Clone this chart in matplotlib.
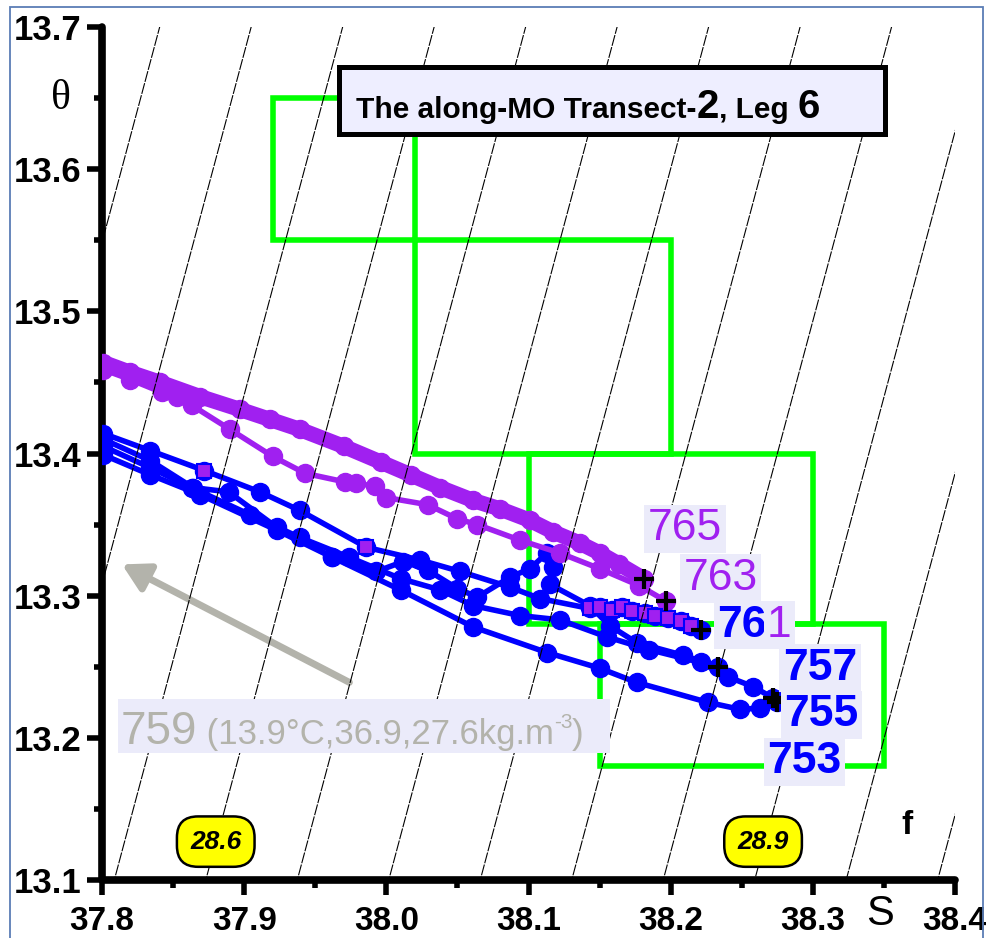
import matplotlib
matplotlib.use("Agg")
import matplotlib.pyplot as plt
from matplotlib.patches import Rectangle
import numpy as np

plt.rcParams['font.family'] = ['Liberation Sans', 'DejaVu Sans']

# axes
s_lim = (37.8, 38.4)
t_lim = (13.1, 13.7)
s_ticks = [37.8, 37.9, 38.0, 38.1, 38.2, 38.3, 38.4]
t_ticks = [13.1, 13.2, 13.3, 13.4, 13.5, 13.6, 13.7]

# green water-mass boxes
box_s0 = [37.92, 38.02, 38.10, 38.15]
box_s1 = [38.02, 38.20, 38.30, 38.35]
box_t0 = [13.55, 13.40, 13.28, 13.18]
box_t1 = [13.65, 13.55, 13.40, 13.28]

# linear density used for the isopycnals
sig_ref = 28.6
s_ref = 37.873
t_ref = 13.1
beta = 0.777
alpha = 0.208
sig_levels = [28.40, 28.45, 28.50, 28.55, 28.60, 28.65, 28.70, 28.75,
              28.80, 28.85, 28.90, 28.95, 29.00, 29.05]

# stations (S, theta)
s765 = [37.801, 37.820, 37.841, 37.869, 37.897, 37.918, 37.939, 37.970, 37.996, 38.017,
        38.038, 38.061, 38.080, 38.101, 38.117, 38.136, 38.150, 38.164, 38.181]
t765 = [13.464, 13.457, 13.450, 13.440, 13.431, 13.424, 13.417, 13.405, 13.394, 13.385,
        13.376, 13.367, 13.361, 13.353, 13.345, 13.337, 13.330, 13.322, 13.312]

s763 = [37.801, 37.820, 37.842, 37.853, 37.863, 37.890, 37.920, 37.943, 37.971, 37.979,
        37.992, 38.000, 38.029, 38.050, 38.064, 38.094, 38.122, 38.150, 38.178, 38.197]
t763 = [13.459, 13.452, 13.443, 13.440, 13.434, 13.417, 13.398, 13.386, 13.380, 13.379,
        13.377, 13.369, 13.364, 13.354, 13.350, 13.339, 13.330, 13.319, 13.307, 13.296]

s761 = [37.801, 37.834, 37.872, 37.911, 37.939, 37.986, 38.024, 38.052, 38.087, 38.108,
        38.143, 38.150, 38.159, 38.166, 38.173, 38.182, 38.189, 38.198, 38.207, 38.214, 38.221]
t761 = [13.414, 13.402, 13.388, 13.373, 13.360, 13.334, 13.325, 13.317, 13.306, 13.298,
        13.291, 13.292, 13.290, 13.292, 13.289, 13.288, 13.286, 13.284, 13.282, 13.279, 13.276]
sq761_s = [37.872, 37.986, 38.143, 38.150, 38.159, 38.166, 38.173, 38.182, 38.189, 38.198, 38.207, 38.214]
sq761_t = [13.388, 13.334, 13.291, 13.292, 13.290, 13.292, 13.289, 13.288, 13.286, 13.284, 13.282, 13.279]

s757 = [37.801, 37.834, 37.864, 37.889, 37.923, 37.962, 37.993, 38.012, 38.029, 38.050,
        38.064, 38.087, 38.101, 38.113, 38.117, 38.115, 38.143, 38.157, 38.176, 38.209, 38.233]
t757 = [13.410, 13.395, 13.376, 13.373, 13.348, 13.327, 13.317, 13.324, 13.318, 13.305,
        13.299, 13.313, 13.319, 13.330, 13.320, 13.308, 13.293, 13.279, 13.267, 13.258, 13.250]

s755 = [37.801, 37.834, 37.863, 37.904, 37.939, 37.974, 38.010, 38.038, 38.061, 38.094,
        38.122, 38.155, 38.185, 38.221, 38.240, 38.258, 38.272]
t755 = [13.405, 13.390, 13.376, 13.357, 13.341, 13.327, 13.312, 13.304, 13.293, 13.286,
        13.283, 13.271, 13.262, 13.253, 13.243, 13.236, 13.228]

s753 = [37.801, 37.834, 37.869, 37.923, 37.962, 38.010, 38.061, 38.113, 38.150, 38.176,
        38.226, 38.249, 38.263, 38.275]
t753 = [13.399, 13.385, 13.371, 13.346, 13.327, 13.304, 13.278, 13.260, 13.249, 13.239,
        13.225, 13.220, 13.221, 13.225]

purple = '#A020F0'
blue = '#0000FF'
green = '#00FF00'
grey = '#B3B3AB'
lav = '#EBEBFA'

fig = plt.figure(figsize=(9.87, 9.38), dpi=100)
ax = fig.add_axes([102 / 987, 58 / 938, 853 / 987, 853 / 938])
ax.set_xlim(*s_lim)
ax.set_ylim(*t_lim)

# isopycnals
S, T = np.meshgrid(np.linspace(37.7, 38.5, 60), np.linspace(13.0, 13.8, 60))
sig = sig_ref + beta * (S - s_ref) - alpha * (T - t_ref)
ax.contour(S, T, sig, levels=sig_levels, colors='k', linewidths=0.8,
           linestyles=[(0, (10, 1.2))], zorder=7)

# green boxes
for a, b, c, d in zip(box_s0, box_s1, box_t0, box_t1):
    ax.add_patch(Rectangle((a, c), b - a, d - c, fill=False, ec=green, lw=4, zorder=2))

# station curves
for s, t, c, w in [(s753, t753, blue, 4), (s755, t755, blue, 4), (s757, t757, blue, 4),
                   (s761, t761, blue, 4), (s763, t763, purple, 4), (s765, t765, purple, 11)]:
    ax.plot(s, t, '-', color=c, lw=w, marker='o', ms=13, mfc=c, mec=c, zorder=4,
            solid_capstyle='round')
ax.plot(sq761_s, sq761_t, 's', mfc=purple, mec=blue, mew=1.5, ms=10, zorder=5)
for s, t in [(s765, t765), (s763, t763), (s761, t761), (s757, t757), (s755, t755), (s753, t753)]:
    ax.plot(s[-1], t[-1], '+', color='k', ms=15, mew=3, zorder=6)

# station labels
bb = dict(boxstyle='square,pad=0.08', fc=lav, ec='none')
ax.text(38.184, 13.339, "765", color=purple, fontsize=32, va='baseline', bbox=bb, zorder=9)
ax.text(38.209, 13.304, "763", color=purple, fontsize=32, va='baseline', bbox=bb, zorder=9)
t76 = ax.text(38.233, 13.271, "76", color=blue, fontsize=32, fontweight='bold',
              va='baseline', bbox=bb, zorder=9)
ax.annotate("1", xy=(1, 13.271), xycoords=(t76, 'data'), color=purple, fontsize=32,
            va='baseline', bbox=bb, zorder=9)
ax.text(38.279, 13.241, "757", color=blue, fontsize=32, fontweight='bold', va='baseline', bbox=bb, zorder=9)
ax.text(38.280, 13.208, "755", color=blue, fontsize=32, fontweight='bold', va='baseline', bbox=bb, zorder=9)
ax.text(38.268, 13.175, "753", color=blue, fontsize=32, fontweight='bold', va='baseline', bbox=bb, zorder=9)

# station 759 (off the diagram)
ax.annotate("", xy=(37.814, 13.322), xytext=(37.974, 13.239),
            arrowprops=dict(arrowstyle='-|>,head_length=0.8,head_width=0.45', color=grey,
                            lw=5, shrinkA=0, shrinkB=0, mutation_scale=20), zorder=3)
ax.add_patch(Rectangle((37.811, 13.189), 0.346, 0.038, fc=lav, ec='none', zorder=8))
p1 = ax.text(37.813, 13.196, "759", color=grey, fontsize=33, va='baseline', zorder=9)
p2 = ax.annotate(" (13.9°C,36.9,27.6kg.m", xy=(1, 13.196), xycoords=(p1, 'data'),
                 color=grey, fontsize=25, va='baseline', zorder=9)
p3 = ax.annotate("-3", xy=(1, 13.196), xycoords=(p2, 'data'), xytext=(0, 11),
                 textcoords='offset points', color=grey, fontsize=15, va='baseline', zorder=9)
ax.annotate(")", xy=(1, 13.196), xycoords=(p3, 'data'), color=grey, fontsize=25,
            va='baseline', zorder=9)

# isopycnal labels
for s0, t0, lab in [(37.880, 13.127, "28.6"), (38.265, 13.127, "28.9")]:
    ax.text(s0, t0, lab, fontsize=19, fontstyle='italic', fontweight='bold',
            ha='center', va='center', zorder=9,
            bbox=dict(boxstyle='round,pad=0.5,rounding_size=0.8', fc='yellow', ec='k', lw=1.8))
ax.text(38.366, 13.138, "f", fontsize=24, fontweight='bold', ha='center', va='center', zorder=9)

# title box
ax.add_patch(Rectangle((37.967, 13.625), 0.384, 0.047, fc='#EEEEFF', ec='k', lw=3.6, zorder=10))
h1 = ax.text(37.979, 13.636, "The along-MO Transect-", fontsize=21.5, fontweight='bold',
             va='baseline', zorder=11)
h2 = ax.annotate("2", xy=(1, 13.636), xycoords=(h1, 'data'), fontsize=29, fontweight='bold',
                 va='baseline', zorder=11)
h3 = ax.annotate(", Leg ", xy=(1, 13.636), xycoords=(h2, 'data'), fontsize=21.5,
                 fontweight='bold', va='baseline', zorder=11)
ax.annotate("6", xy=(1, 13.636), xycoords=(h3, 'data'), fontsize=29, fontweight='bold',
            va='baseline', zorder=11)

# spines and ticks
for side in ['top', 'right']:
    ax.spines[side].set_visible(False)
for side in ['left', 'bottom']:
    ax.spines[side].set_linewidth(5.5)
    ax.spines[side].set_capstyle('round')
ax.set_xticks(s_ticks)
ax.set_yticks(t_ticks)
ax.set_xticks([37.85, 37.95, 38.05, 38.15, 38.25, 38.35], minor=True)
ax.set_yticks([13.15, 13.25, 13.35, 13.45, 13.55, 13.65], minor=True)
ax.set_xticklabels([f"{v:.1f}" for v in s_ticks], fontsize=24, fontweight='bold',
                   family=['Liberation Sans Narrow', 'Liberation Sans'])
ax.set_yticklabels([f"{v:.1f}" for v in t_ticks], fontsize=25, fontweight='bold')
ax.tick_params(which='major', length=11, width=4, pad=4)
ax.tick_params(axis='x', which='major', pad=8)
ax.tick_params(which='minor', length=6, width=4)

ax.annotate("S", xy=(38.347, 24), xycoords=('data', 'figure pixels'), fontsize=30,
            ha='center', va='center', annotation_clip=False)
fig.text(61 / 987, 1 - 99 / 938, "θ", fontsize=30, family='Liberation Serif',
         ha='center', va='center')

fig.patches.append(Rectangle((10 / 987, -0.02), 973 / 987, 1.02 - 7 / 938, fill=False,
                             ec='#5A7DB5', lw=1.3, transform=fig.transFigure))

fig.savefig("out.png", dpi=100)
